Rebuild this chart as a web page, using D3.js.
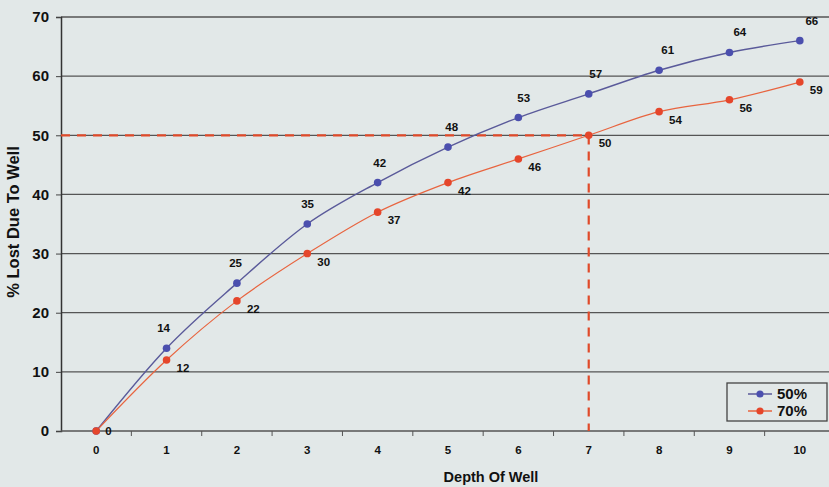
<!DOCTYPE html>
<html><head><meta charset="utf-8">
<script src="https://cdn.jsdelivr.net/npm/d3@7"></script>
<style>
html,body{margin:0;padding:0;background:#e2e8e8;}
svg{display:block;font-family:"Liberation Sans",Arial,sans-serif;font-weight:bold;}
</style></head><body>
<svg id="c" width="829" height="487"></svg>
<script>
const depths = [0,1,2,3,4,5,6,7,8,9,10];
const series50 = [0,14,25,35,42,48,53,57,61,64,66];
const series70 = [0,12,22,30,37,42,46,50,54,56,59];
const seriesNames = ["50%","70%"];
const yTicks = [0,10,20,30,40,50,60,70];
const xTitle = "Depth Of Well";
const yTitle = "% Lost Due To Well";
const refY = 50, refX = 7;

const svg = d3.select("#c");
const W = 829, H = 487;
const x = d3.scaleLinear().domain([-0.5,10.5]).range([61,835]);
const y = d3.scaleLinear().domain([0,70]).range([431,17]);
const blue = "#4b4fae", blueLine="#5a5a9a", red = "#e5462b", redLine="#e8643f";

// gridlines
svg.append("g").selectAll("line").data(yTicks.filter(d=>d>0)).join("line")
  .attr("x1",x(-0.5)).attr("x2",W).attr("y1",d=>y(d)).attr("y2",d=>y(d))
  .attr("stroke","#555").attr("stroke-width",1.3);

// y axis
const ya = svg.append("g").attr("transform",`translate(${x(-0.5)},0)`)
  .call(d3.axisLeft(y).tickValues(yTicks).tickSize(5).tickPadding(7));
ya.select(".domain").attr("stroke","#333").attr("stroke-width",1.5);
ya.selectAll(".tick line").attr("stroke","#444");
ya.selectAll("text").attr("font-size",15).attr("fill","#111").attr("font-weight","bold").attr("font-family","Liberation Sans, Arial, sans-serif");

// x axis line
svg.append("line").attr("x1",x(-0.5)).attr("x2",W).attr("y1",y(0)).attr("y2",y(0))
  .attr("stroke","#555").attr("stroke-width",1.5);
// x ticks between categories
svg.append("g").selectAll("line").data(depths.map(d=>d+0.5)).join("line")
  .attr("x1",d=>x(d)).attr("x2",d=>x(d)).attr("y1",y(0)).attr("y2",y(0)+5)
  .attr("stroke","#555");
svg.append("g").selectAll("text").data(depths).join("text")
  .attr("x",d=>x(d)).attr("y",y(0)+23).attr("text-anchor","middle")
  .attr("font-size",11.5).attr("fill","#111").text(d=>d);

// reference dashed lines
svg.append("path")
  .attr("d",`M${x(-0.5)},${y(refY)}H${x(refX)}V${y(0)}`)
  .attr("fill","none").attr("stroke","#e04a2a").attr("stroke-width",2.2)
  .attr("stroke-dasharray","9,7");

const line = d3.line().x((d,i)=>x(depths[i])).y(d=>y(d)).curve(d3.curveMonotoneX);
svg.append("path").datum(series50).attr("d",line).attr("fill","none").attr("stroke",blueLine).attr("stroke-width",1.4);
svg.append("path").datum(series70).attr("d",line).attr("fill","none").attr("stroke",redLine).attr("stroke-width",1.2);

svg.append("g").selectAll("circle").data(series50).join("circle")
  .attr("cx",(d,i)=>x(depths[i])).attr("cy",d=>y(d)).attr("r",3.8).attr("fill",blue);
svg.append("g").selectAll("circle").data(series70).join("circle")
  .attr("cx",(d,i)=>x(depths[i])).attr("cy",d=>y(d)).attr("r",3.8).attr("fill",red);

// labels (blue labels drift slightly right in the original)
const xLab50 = d3.scaleLinear().domain([1,10]).range([x(1)-3, x(10)+12]);
svg.append("g").selectAll("text").data(series50.slice(1)).join("text")
  .attr("x",(d,i)=>xLab50(depths[i+1])).attr("y",d=>y(d)-16)
  .attr("text-anchor","middle").attr("font-size",11.5).attr("fill","#111").text(d=>d);
svg.append("g").selectAll("text").data(series70).join("text")
  .attr("x",(d,i)=>x(depths[i])+ (i===0?9:10)).attr("y",(d,i)=>y(d)+(i===0?4:12))
  .attr("font-size",11.5).attr("fill","#111").text(d=>d);

// titles
svg.append("text").attr("x",491).attr("y",482).attr("text-anchor","middle")
  .attr("font-size",14.5).attr("fill","#111").text(xTitle);
svg.append("text").attr("transform","translate(19,222) rotate(-90)").attr("text-anchor","middle")
  .attr("font-size",16.5).attr("fill","#111").text(yTitle);

// legend
const lg = svg.append("g").attr("transform","translate(727,383)");
lg.append("rect").attr("width",100).attr("height",38).attr("fill","#e2e8e8").attr("stroke","#444").attr("stroke-width",1.3);
[[blue,blueLine],[red,redLine]].forEach((c,i)=>{
  const yy = 11 + i*17;
  lg.append("line").attr("x1",21).attr("x2",45).attr("y1",yy).attr("y2",yy).attr("stroke",c[1]).attr("stroke-width",1.5);
  lg.append("circle").attr("cx",33).attr("cy",yy).attr("r",3.6).attr("fill",c[0]);
  lg.append("text").attr("x",50).attr("y",yy+5).attr("font-size",15).attr("fill","#111").text(seriesNames[i]);
});
</script>
</body></html>
